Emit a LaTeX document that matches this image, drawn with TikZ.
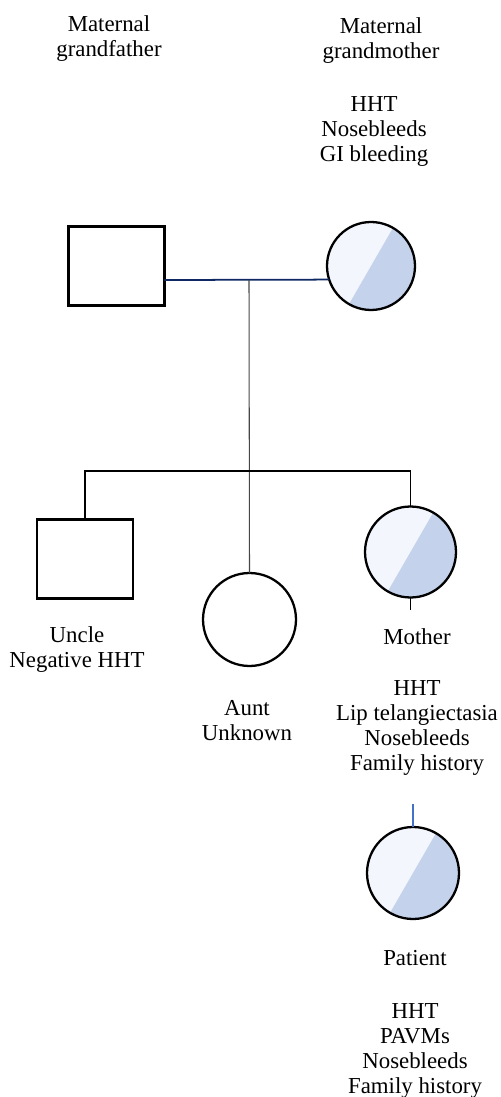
\documentclass[tikz,border=0pt]{standalone}
\usepackage{fontspec}
\setmainfont{Liberation Serif}

\definecolor{hhtlight}{RGB}{243,246,252}
\definecolor{hhtdark}{RGB}{196,210,236}
\definecolor{marriage}{RGB}{14,40,100}
\definecolor{childblue}{RGB}{68,114,196}
\definecolor{descent}{RGB}{70,70,70}

\tikzset{
  person/.style={draw, line width=1.3pt, inner sep=0pt, outer sep=0pt},
  male/.style={person, rectangle, minimum width=1.92cm, minimum height=1.58cm},
  female/.style={person, circle, minimum size=#1},
  female/.default=1.82cm,
  hht/.style={fill=hhtlight, path picture={
      \fill[hhtdark] (path picture bounding box.center) ++(60:1.2cm) -- ++(240:2.4cm)
        -- ++(-30:1.2cm) -- ++(60:2.4cm) -- cycle;}},
  info/.style={anchor=north, inner sep=0pt, align=center,
      font=\fontsize{13}{14.23}\selectfont}
}

\begin{document}
\begin{tikzpicture}[x=0.02cm, y=-0.02cm, line width=0.6pt]
  \useasboundingbox (0,0) rectangle (500,1097);

  \node[male] (gf) at (116.5,266) {};
  \node[female=1.76cm, hht] (gm) at (371,266) {};
  \node[male] (uncle) at (85,559) {};
  \node[female=1.86cm] (aunt) at (249.5,619.5) {};
  \node[female, hht] (mother) at (410.5,552) {};
  \node[female=1.84cm, hht] (patient) at (413,873) {};

  \coordinate (mid) at (249,280);
  \coordinate (sib) at (249,471);
  \coordinate (mstub) at (410.5,610);
  \coordinate (pstub) at (413,804);

  \draw[marriage, line width=1pt] (gf.east |- mid) -- (gm.198);
  \draw[descent] (mid) -- (aunt.north);
  \draw (uncle.north) |- (sib) -| (mother.north);
  \draw (mother.south) -- (mstub);
  \draw[childblue, line width=1pt] (pstub) -- (patient.north);

  \node[info] (gfname) at (109,15) {Maternal\\grandfather};
  \node[info] (gmname) at (381,17) {Maternal\\grandmother};
  \node[info] (gminfo) at (374,96) {HHT\\Nosebleeds\\GI bleeding};
  \node[info] (unclename) at (77,626) {Uncle\\Negative HHT};
  \node[info] (auntname) at (247,700) {Aunt\\Unknown};
  \node[info] (mothername) at (417,628) {Mother};
  \node[info] (motherinfo) at (417,680) {HHT\\Lip telangiectasia\\Nosebleeds\\Family history};
  \node[info] (patientname) at (415,950) {Patient};
  \node[info] (patientinfo) at (415,1003) {HHT\\PAVMs\\Nosebleeds\\Family history};
\end{tikzpicture}
\end{document}
